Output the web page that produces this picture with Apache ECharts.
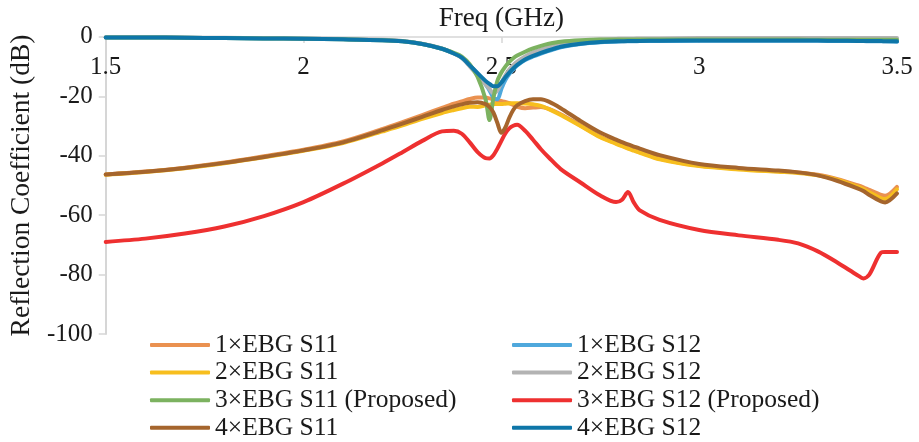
<!DOCTYPE html>
<html>
<head>
<meta charset="utf-8">
<script src="https://cdn.jsdelivr.net/npm/echarts@6/dist/echarts.min.js"></script>
<style>
html,body{margin:0;padding:0;background:#fff;}
#chart{width:919px;height:442px;}
</style>
</head>
<body>
<div id="chart"></div>
<script>
// Frequency grid (GHz)
const freq = [1.5, 1.6, 1.7, 1.8, 1.9, 2.0, 2.1, 2.2, 2.25, 2.3, 2.35, 2.38, 2.4, 2.42, 2.44, 2.46, 2.47, 2.48, 2.49, 2.5, 2.51, 2.52, 2.53, 2.54, 2.56, 2.58, 2.6, 2.62, 2.65, 2.7, 2.75, 2.79, 2.805, 2.82, 2.835, 2.85, 2.9, 3.0, 3.1, 3.2, 3.25, 3.3, 3.35, 3.4, 3.415, 3.43, 3.46, 3.47, 3.5];

const ebg1S11 = [-46.3, -45.3, -44.0, -42.3, -40.2, -38.0, -35.2, -31.0, -28.7, -26.3, -23.9, -22.5, -21.7, -20.9, -20.4, -20.4, -20.7, -21.0, -21.3, -21.6, -21.9, -22.3, -22.9, -23.5, -24.0, -23.8, -23.6, -24.2, -26.0, -29.8, -33.6, -35.8, -36.6, -37.4, -38.1, -38.8, -41.0, -43.3, -44.4, -45.2, -45.6, -46.4, -47.9, -49.9, -50.6, -51.5, -53.2, -53.5, -50.5];
const ebg1S12 = [-0.2, -0.2, -0.3, -0.4, -0.5, -0.6, -0.8, -1.1, -1.5, -2.4, -4.0, -5.6, -7.0, -9.6, -12.5, -16.0, -18.0, -20.5, -21.0, -17.5, -14.5, -12.5, -11.0, -9.6, -7.8, -6.6, -5.6, -4.7, -3.5, -2.4, -1.8, -1.6, -1.5, -1.5, -1.5, -1.4, -1.4, -1.3, -1.3, -1.3, -1.3, -1.3, -1.4, -1.4, -1.4, -1.5, -1.5, -1.5, -1.6];
const ebg2S11 = [-46.4, -45.5, -44.2, -42.5, -40.5, -38.3, -35.7, -31.8, -29.8, -27.6, -25.6, -24.6, -24.0, -23.5, -23.6, -23.0, -22.8, -22.6, -22.6, -22.6, -22.5, -22.4, -22.3, -22.3, -22.4, -22.7, -23.2, -24.3, -26.3, -30.0, -33.8, -36.0, -36.8, -37.6, -38.3, -39.0, -41.2, -43.5, -44.6, -45.4, -45.8, -46.6, -48.1, -50.4, -51.2, -52.3, -54.3, -54.6, -51.3];
const ebg2S12 = [-0.1, -0.1, -0.2, -0.3, -0.4, -0.5, -0.7, -1.0, -1.4, -2.3, -3.9, -5.6, -7.1, -9.9, -13.0, -16.0, -17.5, -19.0, -18.0, -15.4, -13.0, -11.0, -9.5, -8.3, -6.6, -5.2, -4.3, -3.5, -2.5, -1.5, -0.9, -0.7, -0.6, -0.6, -0.6, -0.5, -0.5, -0.4, -0.4, -0.4, -0.4, -0.4, -0.4, -0.4, -0.4, -0.4, -0.4, -0.4, -0.4];
const ebg3S11 = [-0.2, -0.2, -0.3, -0.4, -0.5, -0.6, -0.8, -1.1, -1.5, -2.4, -4.0, -5.4, -6.6, -9.2, -13.5, -21.0, -28.0, -20.5, -14.8, -12.0, -10.0, -8.4, -7.2, -6.3, -5.0, -3.9, -3.0, -2.3, -1.6, -1.1, -0.9, -0.9, -0.9, -0.9, -0.9, -0.9, -0.9, -0.9, -0.9, -0.9, -0.9, -1.0, -1.0, -1.0, -1.0, -1.0, -1.0, -1.0, -1.0];
const ebg3S12 = [-69.0, -67.9, -66.2, -63.8, -60.3, -55.6, -49.4, -42.5, -38.8, -35.0, -31.8, -31.6, -32.6, -35.5, -38.8, -40.8, -40.9, -39.8, -37.6, -35.0, -32.5, -30.8, -29.9, -29.6, -31.6, -34.6, -37.8, -40.6, -44.5, -49.0, -53.4, -55.6, -54.8, -52.2, -55.8, -58.4, -61.6, -65.0, -66.8, -68.3, -69.5, -72.2, -76.0, -80.2, -81.3, -80.0, -72.6, -72.4, -72.4];
const ebg4S11 = [-46.3, -45.4, -44.1, -42.4, -40.4, -38.2, -35.5, -31.4, -29.2, -26.9, -24.6, -23.4, -22.7, -22.2, -22.0, -22.6, -23.6, -25.5, -29.0, -32.3, -30.5, -27.2, -24.6, -23.0, -21.6, -21.0, -21.0, -21.8, -24.0, -28.3, -32.2, -34.6, -35.4, -36.2, -36.9, -37.6, -39.8, -42.8, -44.1, -45.0, -45.6, -46.6, -48.5, -51.0, -51.9, -53.2, -55.4, -55.7, -52.7];
const ebg4S12 = [-0.2, -0.2, -0.3, -0.4, -0.5, -0.6, -0.8, -1.1, -1.5, -2.4, -4.0, -5.6, -7.0, -9.6, -12.2, -14.8, -15.8, -16.6, -16.6, -15.4, -13.6, -12.0, -10.6, -9.4, -7.6, -6.4, -5.4, -4.5, -3.3, -2.3, -1.7, -1.5, -1.45, -1.4, -1.4, -1.35, -1.3, -1.2, -1.2, -1.2, -1.2, -1.25, -1.3, -1.35, -1.35, -1.4, -1.4, -1.45, -1.5];

const xTicks = [1.5, 2, 2.5, 3, 3.5];
const yTicks = [0, -20, -40, -60, -80, -100];

const seriesDefs = [
  {name: '1×EBG S11', data: ebg1S11, color: '#EA9150'},
  {name: '1×EBG S12', data: ebg1S12, color: '#4FA8DC'},
  {name: '2×EBG S11', data: ebg2S11, color: '#F7BE1E'},
  {name: '2×EBG S12', data: ebg2S12, color: '#B3B3B3'},
  {name: '3×EBG S11 (Proposed)', data: ebg3S11, color: '#7CB260'},
  {name: '3×EBG S12 (Proposed)', data: ebg3S12, color: '#EE3030'},
  {name: '4×EBG S11', data: ebg4S11, color: '#A5652D'},
  {name: '4×EBG S12', data: ebg4S12, color: '#0E76A8'}
];

const FONT = 'Liberation Serif';
const chart = echarts.init(document.getElementById('chart'), null, {renderer: 'canvas'});

const legendCommon = {
  orient: 'vertical',
  top: 332,
  itemWidth: 60,
  itemHeight: 4,
  itemGap: 1.6,
  icon: 'roundRect',
  textStyle: {fontFamily: FONT, fontSize: 25.5, color: '#1a1a1a', lineHeight: 26},
  padding: 0
};

chart.setOption({
  animation: false,
  backgroundColor: '#fff',
  grid: {left: 105, right: 22, top: 34.5, bottom: 108, containLabel: false},
  legend: [
    Object.assign({left: 150, data: seriesDefs.filter((s,i)=>i%2===0).map(s=>s.name)}, legendCommon),
    Object.assign({left: 512, data: seriesDefs.filter((s,i)=>i%2===1).map(s=>s.name)}, legendCommon)
  ],
  xAxis: {
    type: 'value',
    position: 'top',
    min: xTicks[0],
    max: xTicks[xTicks.length-1],
    interval: 0.5,
    name: 'Freq (GHz)',
    nameLocation: 'middle',
    nameGap: 4,
    nameTextStyle: {fontFamily: FONT, fontSize: 27, color: '#1a1a1a', verticalAlign: 'bottom'},
    axisLine: {show: true, lineStyle: {color: '#D6D6D6', width: 1.5}},
    axisTick: {show: true, inside: true, length: 6, lineStyle: {color: '#D6D6D6', width: 1.5}},
    axisLabel: {inside: true, margin: 18, fontFamily: FONT, fontSize: 25, color: '#1a1a1a',
      formatter: v => String(v)},
    splitLine: {show: false}
  },
  yAxis: {
    type: 'value',
    min: yTicks[yTicks.length-1],
    max: yTicks[0],
    interval: 20,
    name: 'Reflection Coefficient (dB)',
    nameLocation: 'middle',
    nameGap: 66,
    nameTextStyle: {fontFamily: FONT, fontSize: 27.5, color: '#1a1a1a'},
    axisLine: {show: true, lineStyle: {color: '#D6D6D6', width: 2}},
    axisTick: {show: true, inside: false, length: 7, lineStyle: {color: '#D6D6D6', width: 1.5}},
    axisLabel: {margin: 13, fontFamily: FONT, fontSize: 25, color: '#1a1a1a',
      formatter: v => String(v)},
    splitLine: {show: false}
  },
  series: seriesDefs.map(s => ({
    name: s.name,
    type: 'line',
    showSymbol: false,
    symbol: 'none',
    smooth: 0.3,
    color: s.color,
    lineStyle: {color: s.color, width: 4, cap: 'round', join: 'round'},
    data: freq.map((f, i) => [f, s.data[i]])
  }))
});
</script>
</body>
</html>
